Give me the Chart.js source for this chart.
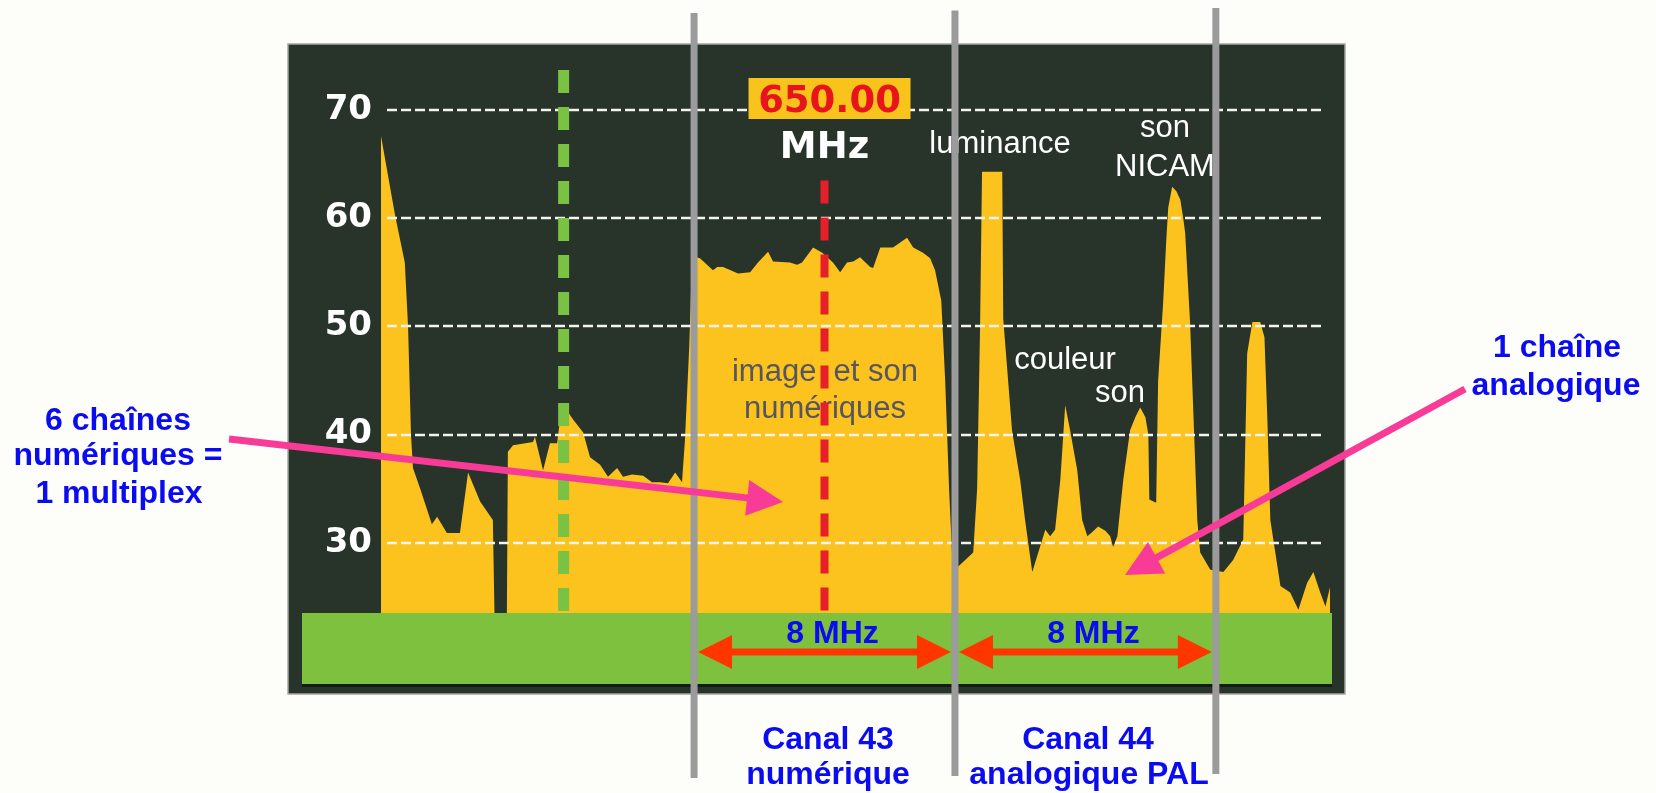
<!DOCTYPE html>
<html>
<head>
<meta charset="utf-8">
<script src="https://cdn.jsdelivr.net/npm/chart.js@4.4.0/dist/chart.umd.min.js"></script>
<style>
  html, body { margin: 0; padding: 0; background: #fdfdfa; }
  canvas { display: block; }
</style>
</head>
<body>
<canvas id="spectre" width="1656" height="793"></canvas>
<script>
// spectre relevé à l'analyseur : fréquence (MHz) / niveau (dBµV)
const freqs = [
  636.40, 636.83, 637.13, 637.23, 637.32, 637.38, 637.60, 637.96, 638.12, 638.42,
  638.82, 639.07, 639.44, 639.83, 639.88, 640.26, 640.29, 640.45, 641.06, 641.12,
  641.37, 641.58, 641.80, 641.95, 642.29, 642.60, 642.81, 643.12, 643.36, 643.64,
  643.82, 644.10, 644.44, 644.71, 644.96, 645.20, 645.42, 645.63, 645.72, 645.85,
  645.94, 646.18, 646.58, 646.71, 646.89, 647.35, 647.72, 647.96, 648.27, 648.42,
  648.94, 649.16, 649.31, 649.65, 649.93, 650.26, 650.48, 650.69, 650.88, 651.09,
  651.40, 651.49, 651.71, 652.10, 652.53, 652.72, 653.02, 653.24, 653.39, 653.58,
  653.70, 653.82, 653.91, 654.10, 654.56, 654.68, 654.77, 654.83, 655.45, 655.48,
  655.75, 656.00, 656.15, 656.37, 656.77, 656.92, 657.07, 657.23, 657.38, 657.53,
  657.75, 657.90, 658.06, 658.21, 658.39, 658.61, 658.76, 658.85, 658.98, 659.16,
  659.37, 659.53, 659.68, 659.84, 659.93, 659.96, 660.17, 660.23, 660.38, 660.48,
  660.54, 660.66, 660.79, 660.91, 661.00, 661.06, 661.21, 661.43, 661.52, 661.83,
  662.23, 662.53, 662.84, 662.96, 663.12, 663.36, 663.49, 663.58, 663.67, 663.98,
  664.28, 664.53, 664.80, 664.99, 665.20, 665.36, 665.51
];
const levels = [
  67.6, 60.3, 55.9, 50.0, 40.0, 36.9, 35.0, 31.7, 32.4, 30.9,
  30.9, 36.5, 33.8, 32.1, 23.5, 23.5, 38.4, 39.0, 39.3, 39.8,
  36.7, 39.2, 39.2, 42.9, 41.4, 40.2, 37.9, 37.2, 36.1, 36.9,
  36.1, 36.3, 36.2, 35.6, 35.6, 35.5, 36.5, 35.6, 39.5, 48.0,
  56.5, 56.3, 55.2, 55.5, 55.5, 54.9, 55.0, 55.9, 56.9, 56.0,
  55.9, 55.7, 55.9, 57.3, 56.8, 55.9, 55.0, 55.9, 56.0, 56.4,
  55.5, 55.4, 57.3, 57.3, 58.2, 57.3, 56.8, 56.3, 55.2, 52.4,
  45.0, 35.0, 29.0, 27.8, 29.1, 35.0, 50.0, 64.3, 64.3, 50.7,
  40.4, 35.8, 32.1, 27.3, 31.2, 30.6, 31.2, 35.8, 42.7, 40.4,
  36.7, 32.1, 30.6, 31.0, 31.5, 31.1, 30.6, 29.6, 30.6, 35.8,
  40.4, 41.6, 42.5, 41.6, 40.0, 34.0, 33.7, 45.0, 52.0, 58.0,
  61.0, 62.9, 62.5, 61.7, 60.0, 58.6, 50.3, 32.1, 29.1, 27.5,
  27.3, 28.4, 30.3, 47.5, 50.4, 50.4, 49.0, 41.4, 32.1, 26.0,
  25.4, 23.8, 26.3, 27.3, 25.4, 24.1, 26.0
];
const yTicks = [30, 40, 50, 60, 70];
const channelEdges = [646, 654, 662];
const channelWidth = '8 MHz';
const markerFreq = 650;
const markerLabel = '650.00';
const markerUnit = 'MHz';
const markerTop = 63.5;
const prevMarkerFreq = 642;
const prevMarkerTop = 73.7;

const YELLOW = '#fcc21d';
const PANEL = '#28332a';
const BAND = '#7dc13e';
const BLUE = '#0b0bf0';
const PINK = '#f93b98';

function txt(ctx, s, x, y, font, color) {
  ctx.font = font;
  ctx.fillStyle = color;
  ctx.textAlign = 'center';
  ctx.textBaseline = 'alphabetic';
  ctx.fillText(s, x, y);
}

function pinkArrow(ctx, x1, y1, x2, y2) {
  const dx = x2 - x1, dy = y2 - y1, len = Math.hypot(dx, dy);
  const ux = dx / len, uy = dy / len;
  const bx = x2 - ux * 36, by = y2 - uy * 36;
  ctx.strokeStyle = PINK;
  ctx.lineWidth = 7;
  ctx.setLineDash([]);
  ctx.beginPath(); ctx.moveTo(x1, y1); ctx.lineTo(bx + ux * 4, by + uy * 4); ctx.stroke();
  ctx.fillStyle = PINK;
  ctx.beginPath();
  ctx.moveTo(x2, y2);
  ctx.lineTo(bx - uy * 18, by + ux * 18);
  ctx.lineTo(bx + uy * 18, by - ux * 18);
  ctx.closePath(); ctx.fill();
}

function doubleArrow(ctx, xa, xb, y) {
  ctx.fillStyle = '#ff3600';
  ctx.fillRect(xa + 30, y - 3.5, xb - xa - 60, 7);
  ctx.beginPath();
  ctx.moveTo(xa, y); ctx.lineTo(xa + 34, y - 17); ctx.lineTo(xa + 34, y + 17); ctx.closePath();
  ctx.moveTo(xb, y); ctx.lineTo(xb - 34, y - 17); ctx.lineTo(xb - 34, y + 17); ctx.closePath();
  ctx.fill();
}

const decor = {
  id: 'decor',
  beforeDraw(chart) {
    const { ctx, chartArea: a } = chart;
    ctx.save();
    ctx.fillStyle = '#fdfdfa';
    ctx.fillRect(0, 0, chart.width, chart.height);
    // écran de l'analyseur
    ctx.fillStyle = PANEL;
    ctx.fillRect(a.left - 93, 44, a.right - a.left + 108, a.bottom - 44 + 81);
    ctx.strokeStyle = '#a3a8a3';
    ctx.lineWidth = 1.5;
    ctx.strokeRect(a.left - 93, 44, a.right - a.left + 108, a.bottom - 44 + 81);
    ctx.fillStyle = BAND;
    ctx.fillRect(a.left - 79, a.bottom, a.right - a.left + 81, 71);
    ctx.fillStyle = '#141b14';
    ctx.fillRect(a.left - 79, a.bottom + 71, a.right - a.left + 81, 3);
    ctx.restore();
  },
  afterDatasetsDraw(chart) {
    const { ctx, chartArea: a, scales: { x, y } } = chart;
    ctx.save();
    // grille pointillée
    ctx.strokeStyle = '#f4f4ee';
    ctx.lineWidth = 2.5;
    ctx.setLineDash([10, 4]);
    yTicks.forEach(v => {
      const py = Math.round(y.getPixelForValue(v));
      ctx.beginPath(); ctx.moveTo(a.left + 6, py); ctx.lineTo(a.right - 5, py); ctx.stroke();
    });

    // textes dans l'écran
    const reg = '31px "Liberation Sans", Arial, sans-serif';
    txt(ctx, 'image  et son', 825, 381, reg, '#55565e');
    txt(ctx, 'numériques', 825, 418, reg, '#55565e');
    txt(ctx, 'luminance', 1000, 153, reg, '#ffffff');
    txt(ctx, 'son', 1165, 137, reg, '#ffffff');
    txt(ctx, 'NICAM', 1165, 176, reg, '#ffffff');
    txt(ctx, 'couleur', 1065, 369, reg, '#ffffff');
    txt(ctx, 'son', 1120, 402, reg, '#ffffff');

    // marqueurs
    ctx.setLineDash([23, 14]);
    ctx.lineWidth = 11;
    ctx.strokeStyle = '#7ac244';
    let mx = x.getPixelForValue(prevMarkerFreq);
    ctx.beginPath(); ctx.moveTo(mx, y.getPixelForValue(prevMarkerTop)); ctx.lineTo(mx, a.bottom); ctx.stroke();
    ctx.lineWidth = 8;
    ctx.strokeStyle = '#e6202a';
    mx = x.getPixelForValue(markerFreq);
    ctx.beginPath(); ctx.moveTo(mx, y.getPixelForValue(markerTop)); ctx.lineTo(mx, a.bottom); ctx.stroke();
    ctx.setLineDash([]);

    // affichage de la fréquence
    ctx.fillStyle = '#f8c41c';
    ctx.fillRect(mx - 76, 78, 162, 41);
    txt(ctx, markerLabel, mx + 5, 112, 'bold 37px "DejaVu Sans", Verdana, sans-serif', '#e8141c');
    txt(ctx, markerUnit, mx, 158, 'bold 37px "DejaVu Sans", Verdana, sans-serif', '#ffffff');

    // largeur des canaux
    const ay = a.bottom + 39;
    for (let i = 0; i < channelEdges.length - 1; i++) {
      const xa = x.getPixelForValue(channelEdges[i]);
      const xb = x.getPixelForValue(channelEdges[i + 1]);
      doubleArrow(ctx, xa + 4, xb - 4, ay);
      txt(ctx, channelWidth, (xa + xb) / 2 + 8, a.bottom + 30, 'bold 32px "Liberation Sans", Arial, sans-serif', BLUE);
    }

    // limites des canaux
    ctx.strokeStyle = '#9b9b9b';
    ctx.lineWidth = 7;
    channelEdges.forEach((f, i) => {
      const cx = x.getPixelForValue(f);
      ctx.beginPath(); ctx.moveTo(cx, 13 - i * 2.5); ctx.lineTo(cx, 778 - i * 2); ctx.stroke();
    });

    // légendes extérieures
    const bold = 'bold 32px "Liberation Sans", Arial, sans-serif';
    txt(ctx, '6 chaînes', 118, 430, bold, BLUE);
    txt(ctx, 'numériques =', 118, 465, bold, BLUE);
    txt(ctx, '1 multiplex', 119, 503, bold, BLUE);
    txt(ctx, '1 chaîne', 1557, 357, bold, BLUE);
    txt(ctx, 'analogique', 1556, 395, bold, BLUE);
    txt(ctx, 'Canal 43', 828, 749, bold, BLUE);
    txt(ctx, 'numérique', 828, 784, bold, BLUE);
    txt(ctx, 'Canal 44', 1088, 749, bold, BLUE);
    txt(ctx, 'analogique PAL', 1089, 784, bold, BLUE);

    pinkArrow(ctx, 229, 439, 783, 502);
    pinkArrow(ctx, 1465, 389, 1125, 575);
    ctx.restore();
  }
};

new Chart(document.getElementById('spectre'), {
  type: 'line',
  data: {
    datasets: [{
      data: freqs.map((f, i) => ({ x: f, y: levels[i] })),
      borderWidth: 0,
      borderColor: YELLOW,
      backgroundColor: YELLOW,
      pointRadius: 0,
      tension: 0,
      fill: 'start'
    }]
  },
  options: {
    responsive: false,
    animation: false,
    devicePixelRatio: 1,
    layout: { padding: { left: 0, top: 56, right: 326, bottom: 180 } },
    plugins: { legend: { display: false }, tooltip: { enabled: false } },
    scales: {
      x: { type: 'linear', min: 636.4, max: 665.5, display: false },
      y: {
        min: 23.5, max: 75,
        afterBuildTicks: s => { s.ticks = yTicks.map(v => ({ value: v })); },
        afterFit: s => { s.width = 381; },
        grid: { display: false, drawTicks: false },
        border: { display: false },
        ticks: {
          padding: 9,
          color: '#ffffff',
          font: { family: '"DejaVu Sans", Verdana, sans-serif', weight: 'bold', size: 34 }
        }
      }
    }
  },
  plugins: [decor]
});
</script>
</body>
</html>
